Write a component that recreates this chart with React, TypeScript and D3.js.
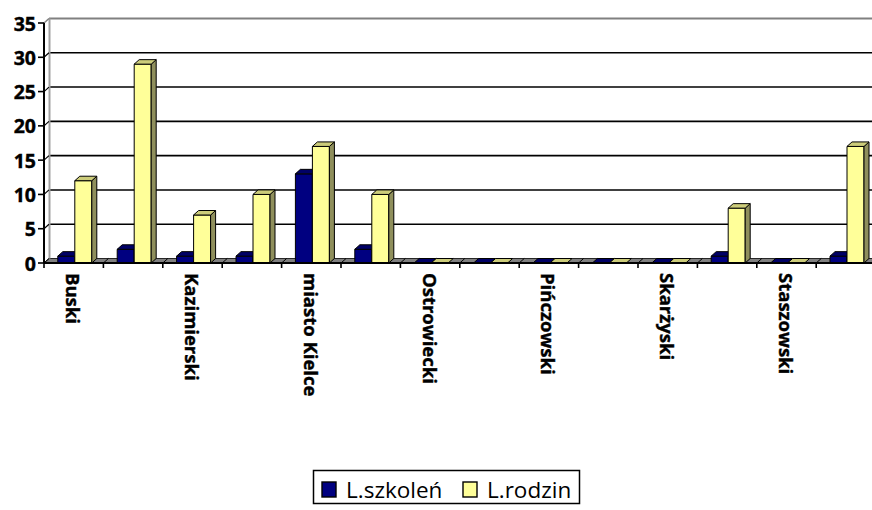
import React from "react";
import * as d3 from "d3";

const categories = [
  "Buski", "Jędrzejowski", "Kazimierski", "Kielecki", "miasto Kielce", "Konecki",
  "Ostrowiecki", "Opatowski", "Pińczowski", "Sandomierski", "Skarżyski",
  "Starachowicki", "Staszowski", "Włoszczowski",
];
const szkolen = [1, 2, 1, 1, 13, 2, 0, 0, 0, 0, 0, 1, 0, 1];
const rodzin = [12, 29, 7, 10, 17, 10, 0, 0, 0, 0, 0, 8, 0, 17];
const yTicks = [0, 5, 10, 15, 20, 25, 30, 35];
const seriesNames = ["L.szkoleń", "L.rodzin"];

const W = 872;
const H = 510;
const DX = 5;
const DY = 4.5;
const FONT = "'Open Sans', Lato, sans-serif";

const colors = [
  { front: "#000080", side: "#00004d", top: "#000066" },
  { front: "#FFFF99", side: "#8f8f5c", top: "#cccc7a" },
];

export default function App() {
  const x0 = 44;
  const catW = 59.4;
  const x = d3.scaleBand<string>().domain(categories).range([x0, x0 + catW * categories.length]).padding(0);
  const x1 = d3.scaleBand<string>().domain(seriesNames).range([13.8, 13.8 + 34]).padding(0);
  const y = d3.scaleLinear().domain([0, 35]).range([263, 23]);
  const y0 = y(0);
  const xRight = x0 + catW * categories.length;
  const bw = x1.bandwidth();
  const series = [szkolen, rodzin];

  return (
    <svg width={W} height={H} style={{ position: "absolute", left: 0, top: 0, background: "#fff" }}>
      {/* floor */}
      <polygon
        points={`${x0},${y0} ${x0 + DX},${y0 - DY} ${xRight + DX},${y0 - DY} ${xRight},${y0}`}
        fill="#808080"
        stroke="#000"
        strokeWidth={0.8}
      />
      {/* back wall gridlines */}
      {yTicks.filter((t) => t > 0 && t < 35).map((t) => (
        <line key={"g" + t} x1={x0 + DX} x2={W + 10} y1={y(t) - DY} y2={y(t) - DY} stroke="#000" strokeWidth={1.6} />
      ))}
      {/* back wall top & left edges */}
      <line x1={x0 + DX} x2={W + 10} y1={y(35) - DY} y2={y(35) - DY} stroke="#808080" strokeWidth={2} />
      <line x1={x0 + DX + 0.5} x2={x0 + DX + 0.5} y1={y(35) - DY} y2={y0 - DY} stroke="#a0a0a0" strokeWidth={2} />
      <line x1={x0} x2={x0 + DX} y1={y(35)} y2={y(35) - DY} stroke="#808080" strokeWidth={1.5} />
      {/* side wall diagonal tick lines */}
      {yTicks.filter((t) => t > 0 && t < 35).map((t) => (
        <line key={"d" + t} x1={x0} x2={x0 + DX} y1={y(t)} y2={y(t) - DY} stroke="#000" strokeWidth={1.2} />
      ))}
      {/* floor category separators */}
      {categories.map((c) => (
        <line key={"fs" + c} x1={x(c)!} x2={x(c)! + DX} y1={y0} y2={y0 - DY} stroke="#000" strokeWidth={1} />
      ))}
      {/* bars */}
      {categories.map((c, i) => (
        <g key={"bars" + c}>
          {series.map((s, si) => {
            const v = s[i];
            const bx = x(c)! + x1(seriesNames[si])!;
            const yv = y(v);
            const col = colors[si];
            return (
              <g key={si} stroke="#000" strokeWidth={1} strokeLinejoin="round">
                {v > 0 && <rect x={bx} y={yv} width={bw} height={y0 - yv} fill={col.front} />}
                {v > 0 && (
                  <polygon
                    points={`${bx + bw},${yv} ${bx + bw + DX},${yv - DY} ${bx + bw + DX},${y0 - DY} ${bx + bw},${y0}`}
                    fill={col.side}
                  />
                )}
                <polygon
                  points={`${bx},${yv} ${bx + DX},${yv - DY} ${bx + bw + DX},${yv - DY} ${bx + bw},${yv}`}
                  fill={col.top}
                />
              </g>
            );
          })}
        </g>
      ))}
      {/* axes */}
      <line x1={x0} x2={x0} y1={y(35)} y2={y0} stroke="#000" strokeWidth={2} />
      <line x1={x0} x2={W + 10} y1={y0} y2={y0} stroke="#000" strokeWidth={2} />
      {yTicks.map((t) => (
        <g key={"yt" + t}>
          <line x1={x0 - 6} x2={x0} y1={y(t)} y2={y(t)} stroke="#000" strokeWidth={1.6} />
          <text
            x={x0 - 8}
            y={y(t)}
            textAnchor="end"
            dominantBaseline="central"
            fontFamily={FONT}
            fontWeight="bold"
            fontSize={19.5}
            fill="#000"
            stroke="#000"
            strokeWidth={0.4}
          >
            {t}
          </text>
        </g>
      ))}
      {categories.map((c) => (
        <line key={"xt" + c} x1={x(c)!} x2={x(c)!} y1={y0} y2={y0 + 5} stroke="#000" strokeWidth={1.6} />
      ))}
      <line x1={xRight} x2={xRight} y1={y0} y2={y0 + 5} stroke="#000" strokeWidth={1.6} />
      {categories.map((c, i) =>
        i % 2 === 0 ? (
          <text
            key={"xl" + c}
            transform={`translate(${x(c)! + catW / 2},${273}) rotate(90)`}
            textAnchor="start"
            dominantBaseline="central"
            fontFamily={FONT}
            fontWeight="bold"
            fontSize={18.5}
            fill="#000"
            stroke="#000"
            strokeWidth={0.4}
          >
            {c}
          </text>
        ) : null
      )}
      {/* legend */}
      <rect x={313.5} y={470.5} width={266} height={33} fill="#fff" stroke="#000" strokeWidth={1.5} />
      {seriesNames.map((n, i) => {
        const lx = i === 0 ? 322 : 463;
        return (
          <g key={"lg" + n}>
            <rect x={lx} y={482} width={14} height={15} fill={colors[i].front} stroke="#000" strokeWidth={1.4} />
            <text x={lx + 24} y={489} dominantBaseline="central" fontFamily={FONT} fontSize={22.5} fill="#000">
              {n}
            </text>
          </g>
        );
      })}
    </svg>
  );
}
